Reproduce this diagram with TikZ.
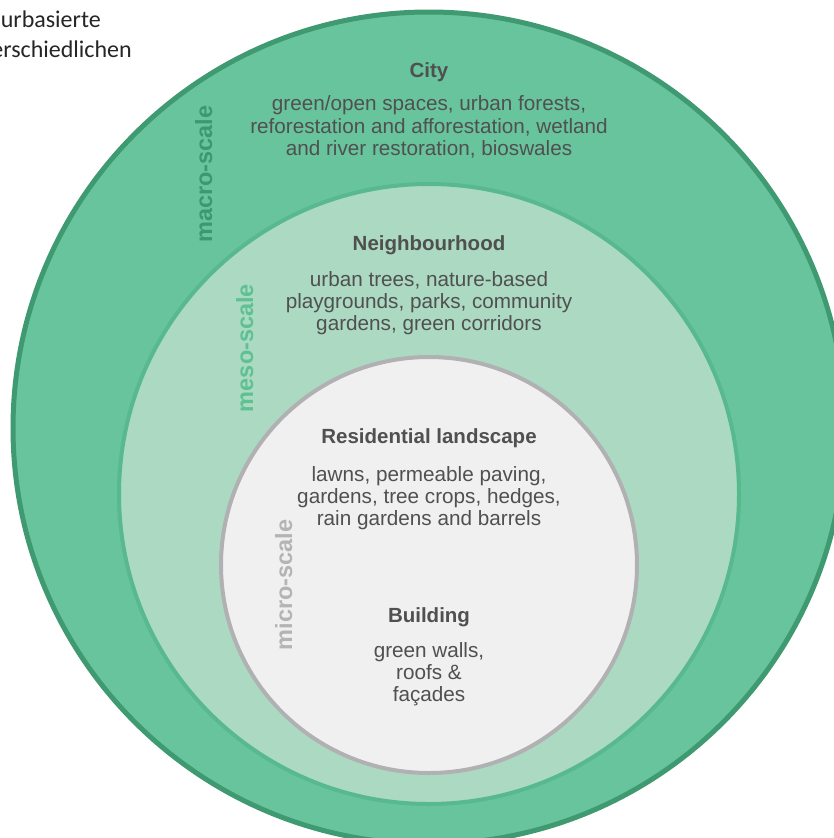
\documentclass[tikz,border=0pt]{standalone}
\usepackage{fontspec}
\setmainfont{Liberation Sans}
\newfontfamily\calfont{Carlito}
\definecolor{outerfill}{HTML}{68C49D}
\definecolor{outerline}{HTML}{3F9A72}
\definecolor{midfill}{HTML}{ABD9C2}
\definecolor{midline}{HTML}{58B98E}
\definecolor{innerfill}{HTML}{F0F0F0}
\definecolor{innerline}{HTML}{B1B1B3}
\definecolor{txt}{HTML}{505050}
\definecolor{macrocol}{HTML}{3D9870}
\definecolor{mesocol}{HTML}{5FC192}
\definecolor{microcol}{HTML}{B4B4B4}
\tikzset{
  ring/.style={line width=#1},
  title/.style={font=\fontsize{20.5}{22}\selectfont\bfseries, text=txt, inner sep=0pt},
  body/.style={font=\fontsize{20.7}{22.3}\selectfont, text=txt, align=center, inner sep=0pt},
  scalelabel/.style={font=\fontsize{23.5}{26}\selectfont\bfseries, rotate=90, anchor=base, inner sep=0pt},
  side/.style={font=\calfont\fontsize{24}{30}\selectfont, text=black!85, anchor=base east, inner sep=0pt}
}
\begin{document}
\begin{tikzpicture}[x=1pt,y=-1pt]
\useasboundingbox (0,0) rectangle (834,838);
\clip (0,0) rectangle (834,838);
\fill[white] (0,0) rectangle (834,838);
\filldraw[fill=outerfill, draw=outerline, ring=5pt] (429,428) circle[radius=416pt];
\filldraw[fill=midfill, draw=midline, ring=4pt] (429,494) circle[radius=310pt];
\filldraw[fill=innerfill, draw=innerline, ring=4pt] (429,565) circle[radius=208pt];

\node[side] (t1) at (101,27) {urbasierte};
\node[side] (t2) at (132,57) {erschiedlichen};

\node[title] (city) at (429,72) {City};
\node[body] (citytxt) at (429,127) {green/open spaces, urban forests,\\reforestation and afforestation, wetland\\and river restoration, bioswales};

\node[title] (neigh) at (429,245) {Neighbourhood};
\node[body] (neightxt) at (429,303) {urban trees, nature-based\\playgrounds, parks, community\\gardens, green corridors};

\node[title] (res) at (429,438) {Residential landscape};
\node[body] (restxt) at (429,498) {lawns, permeable paving,\\gardens, tree crops, hedges,\\rain gardens and barrels};

\node[title] (bld) at (429,617) {Building};
\node[body] (bldtxt) at (429,674) {green walls,\\roofs \&\\façades};

\node[scalelabel, text=macrocol] (macro) at (212,174) {macro-scale};
\node[scalelabel, text=mesocol] (meso) at (253,348) {meso-scale};
\node[scalelabel, text=microcol] (micro) at (292,585) {micro-scale};
\end{tikzpicture}
\end{document}
